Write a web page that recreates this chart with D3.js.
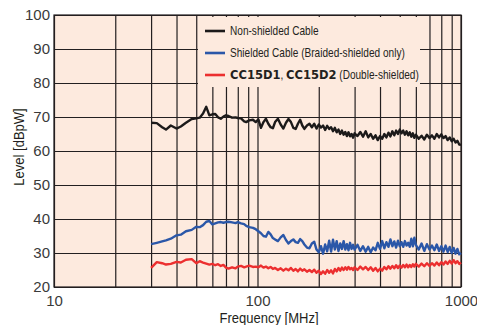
<!DOCTYPE html>
<html>
<head>
<meta charset="utf-8">
<script src="https://cdn.jsdelivr.net/npm/d3@7"></script>
<style>
  body { margin: 0; background: #fff; }
  text { font-family: "Liberation Sans", Arial, sans-serif; }
</style>
</head>
<body>
<svg id="chart" width="477" height="325"></svg>
<script>
// Frequency samples [MHz]
const freqs = [
  30, 32, 34, 35.5, 37.5, 40, 42, 44.5, 47.5, 50,
  52, 54, 56, 58, 60, 62, 64, 66, 68, 70,
  72, 75, 78, 80, 83, 86, 88, 91, 95, 98,
  101, 104, 107, 110, 113, 116, 119, 122, 126, 130,
  134, 138, 142, 146, 150, 154, 158, 162, 166, 170,
  175, 180,
  185, 190, 195, 200, 205, 210, 215, 220, 225, 230, 235, 240,
  245, 250, 255, 260, 265, 270, 275, 280, 285, 290, 295, 300,
  310, 320, 330, 340, 350, 360, 370, 380, 390, 400,
  410, 420, 430, 440, 450, 460, 470, 480, 490, 500,
  510, 520, 530, 540, 550, 560, 570, 580, 590, 600,
  620, 640, 660, 680, 700, 720, 740, 760, 780, 800,
  820, 840, 860, 880, 900, 920, 940, 960, 980, 1000
];

// Level [dBpW] per series
const nonShielded = [
  68.3, 68.2, 67.0, 66.3, 67.5, 66.6, 67.2, 68.3, 69.4, 69.6,
  69.8, 71.0, 73.0, 70.5, 70.8, 70.9, 69.9, 69.5, 70.1, 70.5,
  70.3, 69.8, 69.9, 69.7, 69.6, 68.7, 68.5, 69.0, 69.2, 68.5,
  69.3, 66.8, 68.5, 69.5, 68.0, 67.0, 66.7, 68.5, 69.5, 67.8,
  66.6, 68.3, 69.4, 68.5, 66.8, 66.5, 68.0, 69.2, 67.5, 66.5,
  67.5, 68.0,
  67.0, 68.0, 66.6, 67.8, 66.9, 67.5, 66.2, 67.4, 66.5, 67.0, 65.8, 66.8,
  65.5, 66.3, 65.0, 66.0, 64.8, 65.6, 64.4, 65.5, 64.3, 65.0, 63.9, 65.2,
  64.4, 65.6, 64.2, 65.8, 64.0, 65.0, 63.6, 64.6, 63.2, 64.4,
  63.6, 65.0, 64.0, 65.4, 64.3, 65.8, 64.6, 66.0, 65.0, 66.3,
  65.2, 66.0, 64.8, 65.8, 64.6, 65.5, 64.2, 65.2, 63.9, 64.8,
  63.6, 64.5, 63.4, 64.8, 63.8, 64.6, 63.6, 65.0, 64.0, 64.9,
  63.8, 64.4, 63.2, 64.0, 62.9, 63.6, 62.5, 63.0, 61.9, 61.8
];

const braidedShielded = [
  32.6, 33.0, 33.4, 33.7, 34.2, 35.2, 35.4, 36.4, 36.8, 37.7,
  37.6, 38.2, 39.2, 39.4, 38.4, 38.7, 39.0, 39.1, 38.9, 39.1,
  39.2, 39.0, 38.8, 39.1, 38.7, 38.5, 38.0, 37.6, 37.4, 37.0,
  36.4, 35.8, 35.0, 34.8, 36.2, 35.5, 34.4, 34.0, 33.5, 34.6,
  35.3, 33.8, 32.8, 33.5, 34.0, 33.2, 33.0, 34.1, 33.5, 32.5,
  31.6, 31.4,
  32.8, 33.3, 31.0, 30.2, 32.0, 29.8, 32.5, 30.5, 33.6, 30.4, 33.9, 31.0,
  33.5, 30.6, 32.8, 31.2, 33.5, 31.0, 32.6, 30.8, 33.0, 31.2, 32.4, 31.0,
  32.4, 30.6, 32.0, 30.4, 31.8, 30.2, 31.6, 30.8, 33.0, 31.2,
  33.5, 31.4, 33.2, 31.8, 34.0, 32.0, 33.4, 31.6, 33.6, 32.0,
  33.2, 31.8, 33.5, 32.2, 33.0, 31.8, 34.2, 32.0, 34.5, 32.4,
  31.0, 32.8, 30.6, 32.6, 31.0, 32.2, 30.8, 32.5, 30.6, 32.0,
  30.4, 32.2, 30.3, 31.8, 30.0, 31.5, 29.8, 31.2, 29.6, 30.0
];

const doubleShielded = [
  25.6, 27.3, 27.0, 26.6, 26.8, 27.4, 27.2, 28.0, 28.2, 27.0,
  27.6, 27.2, 26.9, 26.6, 26.8, 26.4, 26.7, 26.2, 26.5, 25.7,
  25.4, 25.8, 25.5, 26.0, 26.2, 25.8, 26.0, 26.3, 25.9, 26.0,
  25.8, 26.3, 25.7, 26.0, 25.5, 25.9, 25.3, 25.6, 25.0, 25.5,
  24.8, 25.4, 24.9, 25.6, 24.8, 25.3, 24.6, 25.4, 24.8, 25.2,
  24.5, 25.0,
  24.4, 25.1, 24.2, 24.8, 23.8, 24.6, 23.9, 25.0, 24.2, 24.9, 24.0, 25.3,
  24.6, 25.6, 24.8, 25.7, 25.0, 25.8, 25.1, 25.9, 25.2, 25.6, 25.0, 25.8,
  25.0, 26.0, 25.2, 25.9, 25.0, 25.8, 24.8, 25.6, 24.6, 25.4,
  24.8, 25.9, 25.2, 26.1, 25.4, 26.2, 25.5, 26.4, 25.6, 26.3,
  25.7, 26.5, 25.8, 26.6, 25.8, 26.5, 25.9, 26.7, 26.0, 26.8,
  26.0, 26.9, 26.1, 27.0, 26.2, 27.0, 26.3, 27.2, 26.4, 27.3,
  26.6, 27.5, 26.8, 27.7, 26.9, 27.9, 27.0, 27.6, 26.8, 27.2
];

const xTickLabels = [10, 100, 1000];
const yTicks = [20, 30, 40, 50, 60, 70, 80, 90, 100];

const series = [
  { name: "nonShielded", values: nonShielded, color: "#1c1a1a" },
  { name: "braided", values: braidedShielded, color: "#2b57a8" },
  { name: "double", values: doubleShielded, color: "#ec2f2f" }
];

const width = 477, height = 325;
const margin = { top: 15, right: 16, bottom: 38, left: 54 };
const w = width - margin.left - margin.right;
const h = height - margin.top - margin.bottom;
const bg = "#fdeade";
const narrow = 0.84; // condensed look of the original typeface

const svg = d3.select("#chart");
const g = svg.append("g").attr("transform", `translate(${margin.left},${margin.top})`);

const x = d3.scaleLog().domain([10, 1000]).range([0, w]);
const y = d3.scaleLinear().domain([20, 100]).range([h, 0]);

g.append("rect").attr("width", w).attr("height", h).attr("fill", bg);

// Grid + axes
const xAxis = g.append("g")
  .attr("transform", `translate(0,${h})`)
  .call(d3.axisBottom(x)
    .tickValues(x.ticks())
    .tickSize(-h)
    .tickPadding(6)
    .tickFormat((d) => (xTickLabels.includes(d) ? d : "")));

const yAxis = g.append("g")
  .call(d3.axisLeft(y)
    .tickValues(yTicks)
    .tickSize(-w)
    .tickPadding(4));

[xAxis, yAxis].forEach((a) => {
  a.select(".domain").remove();
  a.selectAll(".tick line").attr("stroke", "#231f20").attr("stroke-width", 1.2);
  a.selectAll(".tick text")
    .attr("fill", "#3a3a3a")
    .style("font-size", "15px");
});
xAxis.selectAll(".tick text").attr("dy", "0.85em");

// Frame
g.append("rect").attr("width", w).attr("height", h)
  .attr("fill", "none").attr("stroke", "#231f20").attr("stroke-width", 1.2);

// Legend box covers grid
const legend = g.append("g").attr("transform", `translate(${198 - margin.left},${17 - margin.top})`);
legend.append("rect").attr("width", 222).attr("height", 70).attr("fill", bg);

const legendRows = [
  { color: series[0].color, parts: [{ t: "Non-shielded Cable" }] },
  { color: series[1].color, parts: [{ t: "Shielded Cable (Braided-shielded only)" }] },
  { color: series[2].color, parts: [
    { t: "CC15D1", b: true }, { t: ", " }, { t: "CC15D2", b: true }, { t: " (Double-shielded)" }
  ] }
];

legendRows.forEach((row, i) => {
  const ry = 14 + i * 22;
  legend.append("line")
    .attr("x1", 7).attr("x2", 27).attr("y1", ry).attr("y2", ry)
    .attr("stroke", row.color).attr("stroke-width", 2.6);
  let cx = 32;
  row.parts.forEach((p) => {
    const sx = p.b ? 1 : narrow;
    const t = legend.append("text")
      .attr("transform", `translate(${cx},${ry + 4}) scale(${sx},1)`)
      .attr("fill", "#231f20")
      .style("white-space", "pre")
      .text(p.t);
    if (p.b) t.style("font-family", "'DejaVu Sans', sans-serif").style("font-weight", "bold").style("font-size", "11.5px");
    else t.style("font-size", "12px");
    cx += t.node().getComputedTextLength() * sx;
  });
});

// Data lines
const line = d3.line()
  .x((d) => x(d[0]))
  .y((d) => y(d[1]));

series.forEach((s) => {
  g.append("path")
    .datum(d3.zip(freqs, s.values))
    .attr("fill", "none")
    .attr("stroke", s.color)
    .attr("stroke-width", 2.4)
    .attr("stroke-linejoin", "round")
    .attr("d", line);
});

// Axis titles
svg.append("text")
  .attr("transform", `translate(269,323) scale(${narrow},1)`)
  .attr("text-anchor", "middle")
  .attr("fill", "#231f20")
  .style("font-size", "15.5px")
  .text("Frequency [MHz]");

svg.append("text")
  .attr("transform", `translate(24,147) rotate(-90) scale(${narrow},1)`)
  .attr("text-anchor", "middle")
  .attr("fill", "#231f20")
  .style("font-size", "15.5px")
  .text("Level [dBpW]");
</script>
</body>
</html>
